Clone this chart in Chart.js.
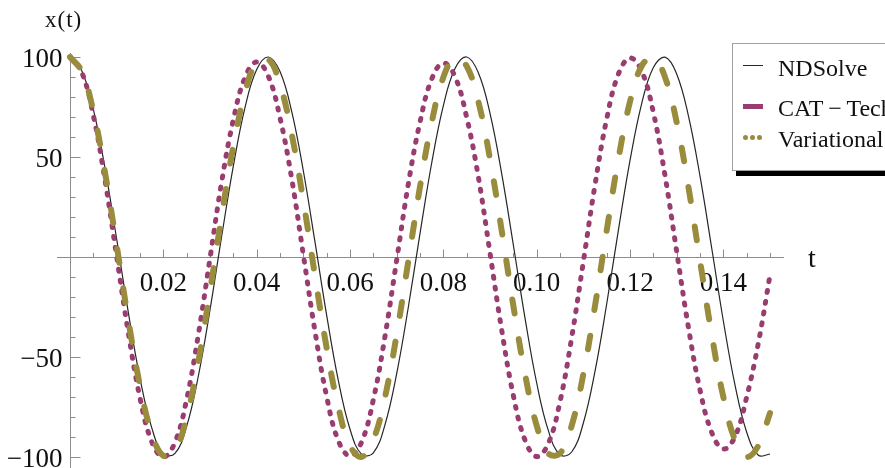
<!DOCTYPE html>
<html>
<head>
<meta charset="utf-8">
<script src="https://cdn.jsdelivr.net/npm/chart.js@4.4.0/dist/chart.umd.min.js"></script>
<style>
  html, body { margin: 0; padding: 0; background: #fff; }
  #wrap { position: relative; width: 885px; height: 468px; overflow: hidden; font-family: "Liberation Serif", serif; color: #111; }
  #plot { position: absolute; left: 0; top: 0; }
  .axlbl { position: absolute; white-space: nowrap; line-height: 1; }
  #legend { position: absolute; left: 732px; top: 43px; width: 200px; height: 126px; border: 1px solid #a0a0a0; background: #fff; box-shadow: 4px 5px 0 #000; }
  #legend .txt { position: absolute; left: 45px; font-size: 24px; line-height: 24px; white-space: nowrap; }
  #legend .mk { position: absolute; left: 10px; width: 20px; }
  #legend .dot { position: absolute; width: 5px; height: 5px; border-radius: 2.5px; background: rgb(153,140,61); }
</style>
</head>
<body>
<div id="wrap">
  <canvas id="plot" width="885" height="468"></canvas>
  <div class="axlbl" style="left:45px; top:8px; font-size:23px; letter-spacing:1px;">x(t)</div>
  <div class="axlbl" style="left:808px; top:244px; font-size:28px;">t</div>
  <div id="legend">
    <div class="mk" style="top:21px; height:1.3px; background:#262626;"></div>
    <div class="txt" style="top:12px;">NDSolve</div>
    <div class="mk" style="top:60px; height:5px; background:rgb(153,61,113);"></div>
    <div class="txt" style="top:52px;">CAT&#8201;&#8722;&#8201;Tech</div>
    <div class="dot" style="left:10px; top:91px;"></div>
    <div class="dot" style="left:17px; top:91px;"></div>
    <div class="dot" style="left:24px; top:91px;"></div>
    <div class="txt" style="top:83px;">Variational</div>
  </div>
</div>
<script>
// time samples (s)
var tValues = [
  0, 0.0025, 0.005, 0.0075, 0.01, 0.0125, 0.015, 0.0175, 0.02, 0.0225,
  0.025, 0.0275, 0.03, 0.0325, 0.035, 0.0375, 0.04, 0.0425, 0.045, 0.0475,
  0.05, 0.0525, 0.055, 0.0575, 0.06, 0.0625, 0.065, 0.0675, 0.07, 0.0725,
  0.075, 0.0775, 0.08, 0.0825, 0.085, 0.0875, 0.09, 0.0925, 0.095, 0.0975,
  0.1, 0.1025, 0.105, 0.1075, 0.11, 0.1125, 0.115, 0.1175, 0.12, 0.1225,
  0.125, 0.1275, 0.13, 0.1325, 0.135, 0.1375, 0.14, 0.1425, 0.145, 0.1475,
  0.15
];

var ndSolve = [
  100, 93.2, 73.8, 44.3, 8.9, -27.8, -60.7, -85.3, -98.4, -98.2,
  -84.6, -59.5, -26.4, 10.4, 45.6, 74.8, 93.7, 100.0, 92.7, 72.8,
  43.0, 7.4, -29.2, -61.8, -86.1, -98.7, -97.9, -83.8, -58.3, -25.0,
  11.8, 47.0, 75.7, 94.2, 100.0, 92.1, 71.8, 41.7, 6.0, -30.6,
  -63.0, -86.8, -98.9, -97.5, -83.0, -57.1, -23.5, 13.3, 48.3, 76.7,
  94.7, 99.9, 91.5, 70.7, 40.4, 4.5, -32.0, -64.1, -87.6, -99.1,
  -98.5
];

var catTech = [
  100, 92.4, 70.8, 38.4, 0.2, -38.0, -70.5, -92.3, -100.0, -92.6,
  -71.1, -38.8, -0.6, 37.6, 68.6, 89.8, 97.5, 90.4, 69.6, 39.2,
  1.0, -37.3, -69.9, -91.9, -99.5, -92.4, -71.3, -39.6, -1.5, 36.6,
  67.5, 89.0, 97.0, 90.2, 69.8, 40.0, 1.9, -36.5, -69.3, -91.6,
  -99.8, -93.2, -72.3, -40.3, -2.3, 36.1, 69.0, 91.4, 99.5, 93.0,
  72.3, 40.7, 2.7, -35.0, -66.5, -87.7, -96.0, -89.8, -70.0, -43.0,
  -9.0
];

var variational = [
  100, 92.9, 72.7, 42.2, 5.7, -31.6, -64.4, -88.1, -99.4, -96.5,
  -80.0, -52.2, -17.0, 20.7, 55.4, 82.2, 97.4, 98.9, 86.3, 61.5,
  28.0, -9.5, -45.6, -75.2, -94.3, -99.9, -91.4, -70.0, -38.7, -1.9,
  35.2, 67.3, 89.9, 99.7, 95.4, 77.7, 48.9, 13.2, -24.4, -58.5,
  -84.3, -98.2, -98.2, -84.3, -58.5, -24.4, 13.2, 48.9, 77.7, 95.5,
  99.7, 89.9, 67.3, 35.2, -1.9, -38.7, -70.1, -91.5, -99.9, -94.3,
  -78.0
];

var seriesNames = ['NDSolve', 'CAT \u2212 Tech', 'Variational'];

var xMajorTicks = [0.02, 0.04, 0.06, 0.08, 0.10, 0.12, 0.14];
var xTickLabels = ['0.02', '0.04', '0.06', '0.08', '0.10', '0.12', '0.14'];
var yMajorTicks = [100, 50, -50, -100];
var yTickLabels = ['100', '50', '\u221250', '\u2212100'];

var xMinorTicks = [];
for (var i = 1; i <= 30; i++) xMinorTicks.push(i * 0.005);
var yMinorTicks = [];
for (var j = -10; j <= 10; j++) if (j !== 0) yMinorTicks.push(j * 10);

function pts(vals) {
  return tValues.map(function (t, k) { return { x: t, y: vals[k] }; });
}

var axisGray = '#8c8c8c';
var labelFont = '27px "Liberation Serif"';

// Mathematica style ticks: they point into the plot, labels sit outside
var axisTicks = {
  id: 'axisTicks',
  beforeDatasetsDraw: function (chart) {
    var ctx = chart.ctx;
    var xs = chart.scales.x, ys = chart.scales.y;
    var x0 = Math.round(xs.getPixelForValue(0)) + 0.5;
    var y0 = Math.round(ys.getPixelForValue(0)) + 0.5;
    ctx.save();
    ctx.strokeStyle = axisGray;
    ctx.lineWidth = 1;
    ctx.beginPath();
    xMinorTicks.forEach(function (v) {
      var px = Math.round(xs.getPixelForValue(v)) + 0.5;
      ctx.moveTo(px, y0); ctx.lineTo(px, y0 - 4.5);
    });
    xMajorTicks.forEach(function (v) {
      var px = Math.round(xs.getPixelForValue(v)) + 0.5;
      ctx.moveTo(px, y0); ctx.lineTo(px, y0 - 8);
    });
    yMinorTicks.forEach(function (v) {
      var py = Math.round(ys.getPixelForValue(v)) + 0.5;
      ctx.moveTo(x0, py); ctx.lineTo(x0 + 5, py);
    });
    yMajorTicks.forEach(function (v) {
      var py = Math.round(ys.getPixelForValue(v)) + 0.5;
      ctx.moveTo(x0, py); ctx.lineTo(x0 + 10, py);
    });
    ctx.stroke();

    ctx.fillStyle = '#111';
    ctx.font = labelFont;
    ctx.textBaseline = 'alphabetic';
    ctx.textAlign = 'center';
    xMajorTicks.forEach(function (v, k) {
      ctx.fillText(xTickLabels[k], xs.getPixelForValue(v), y0 + 33);
    });
    ctx.textAlign = 'right';
    yMajorTicks.forEach(function (v, k) {
      ctx.fillText(yTickLabels[k], x0 - 8, ys.getPixelForValue(v) + 9.5);
    });
    ctx.restore();
  }
};

var ctx = document.getElementById('plot').getContext('2d');
var chart = new Chart(ctx, {
  type: 'line',
  data: {
    datasets: [{
      label: seriesNames[0],
      data: pts(ndSolve),
      borderColor: '#262626',
      borderWidth: 1.2,
      pointRadius: 0,
      tension: 0.4,
      order: 2
    }, {
      label: seriesNames[1],
      data: pts(catTech),
      borderColor: 'rgb(153,61,113)',
      borderWidth: 5,
      borderDash: [2, 9],
      borderCapStyle: 'round',
      pointRadius: 0,
      tension: 0.4,
      order: 1
    }, {
      label: seriesNames[2],
      data: pts(variational),
      borderColor: 'rgb(153,140,61)',
      borderWidth: 6,
      borderDash: [14, 26],
      borderCapStyle: 'round',
      pointRadius: 0,
      tension: 0.4,
      order: 0
    }]
  },
  options: {
    responsive: false,
    animation: false,
    events: [],
    layout: { padding: { left: 57, right: 102, top: 53, bottom: 0 } },
    plugins: { legend: { display: false }, tooltip: { enabled: false } },
    scales: {
      x: {
        type: 'linear',
        min: -0.00279,
        max: 0.15278,
        position: { y: 0 },
        grid: { display: false, drawTicks: false },
        ticks: { display: false },
        border: { color: axisGray, width: 1 }
      },
      y: {
        type: 'linear',
        min: -105.5,
        max: 102,
        position: { x: 0 },
        grid: { display: false, drawTicks: false },
        ticks: { display: false },
        border: { color: axisGray, width: 1 }
      }
    }
  },
  plugins: [axisTicks]
});
</script>
</body>
</html>
